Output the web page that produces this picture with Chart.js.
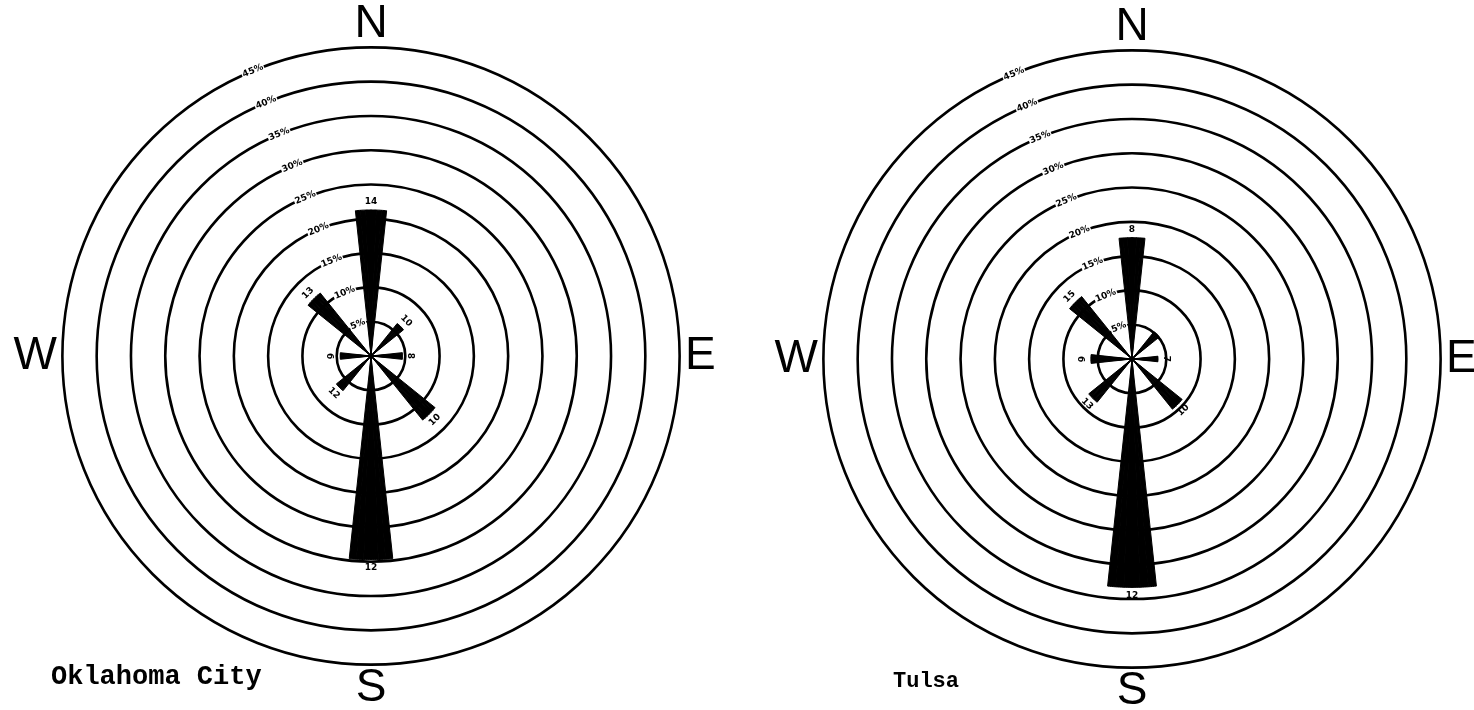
<!DOCTYPE html>
<html>
<head>
<meta charset="utf-8">
<script src="https://cdn.jsdelivr.net/npm/chart.js@4.4.1/dist/chart.umd.min.js"></script>
<style>
  html, body { margin:0; padding:0; background:#fff; width:1474px; height:710px; overflow:hidden; position:relative; }
  .box { position:absolute; }
  .city { position:absolute; font-family:"Liberation Mono","Courier New",monospace; font-weight:bold; color:#000; white-space:nowrap; line-height:1; }
</style>
</head>
<body>
<div class="box" style="left:0px;top:0px;width:737px;height:710px"><canvas id="okc"></canvas></div>
<div class="box" style="left:761px;top:3px;width:737px;height:710px"><canvas id="tulsa"></canvas></div>
<div class="city" style="left:51px;top:664px;font-size:27px">Oklahoma City</div>
<div class="city" style="left:893px;top:671px;font-size:22px">Tulsa</div>
<script>
// ---- data ----
const directions = ['N','NE','E','SE','S','SW','W','NW'];
const compassLabels = ['N','E','S','W'];
const ringTicks = [5,10,15,20,25,30,35,40,45];           // percent rings
const okcFrequency   = [21.3, 6.1, 4.6, 12.0, 29.7, 6.5, 4.5, 11.8]; // % of time
const okcSpeed       = ['14','10','8','10','12','12','9','13'];       // mean speed labels
const tulsaFrequency = [17.7, 5.1, 3.8, 9.4, 33.3, 8.1, 6.0, 11.7];
const tulsaSpeed     = ['8','','7','10','12','13','9','15'];

// ---- build the library's sector table (narrow wedges separated by empty sectors) ----
const SLOTS_PER_DIR = 22;   // 45 deg / 22 slots
const WEDGE_FIRST = 8, WEDGE_LAST = 13; // 6 slots -> ~12.3 deg wide wedge centred on direction
const LABEL_SLOT = 11;      // slot whose start angle is exactly the direction

function buildTable(freq) {
  const labels = [], values = [];
  directions.forEach((dir, d) => {
    for (let k = 0; k < SLOTS_PER_DIR; k++) {
      values.push(k >= WEDGE_FIRST && k <= WEDGE_LAST ? freq[d] : 0);
      labels.push(k === LABEL_SLOT && d % 2 === 0 ? compassLabels[d / 2] : '');
    }
  });
  return { labels, values };
}

const speedLabelPlugin = {
  id: 'speedLabels',
  afterDatasetsDraw(chart, args, opts) {
    const meta = chart.getDatasetMeta(0);
    const ctx = chart.ctx;
    ctx.save();
    ctx.font = 'bold 9px "DejaVu Sans", sans-serif';
    ctx.fillStyle = '#000';
    ctx.textAlign = 'center';
    ctx.textBaseline = 'middle';
    (opts.labels || []).forEach((txt, d) => {
      if (!txt) return;
      const arc = meta.data[d * SLOTS_PER_DIR + LABEL_SLOT];
      const a = arc.startAngle;
      const r = arc.outerRadius + 8;
      const x = arc.x + Math.cos(a) * r;
      const y = arc.y + Math.sin(a) * r;
      let rot = a + Math.PI / 2;
      while (rot > Math.PI) rot -= 2 * Math.PI;
      while (rot <= -Math.PI) rot += 2 * Math.PI;
      if (rot > Math.PI / 2 + 0.01) rot -= Math.PI;
      if (rot < -Math.PI / 2 - 0.01) rot += Math.PI;
      ctx.save();
      ctx.translate(x, y);
      ctx.rotate(rot);
      ctx.fillText(txt, 0, 0);
      ctx.restore();
    });
    ctx.restore();
  }
};

function makeRose(id, freq, speeds) {
  const t = buildTable(freq);
  return new Chart(document.getElementById(id), {
    type: 'polarArea',
    data: {
      labels: t.labels,
      datasets: [{
        data: t.values,
        backgroundColor: '#000',
        borderColor: '#000',
        borderWidth: 1
      }]
    },
    plugins: [speedLabelPlugin],
    options: {
      responsive: true,
      maintainAspectRatio: false,
      animation: false,
      layout: { padding: { left: 5, right: 12, top: 6, bottom: 3 } },
      plugins: {
        legend: { display: false },
        tooltip: { enabled: false },
        speedLabels: { labels: speeds }
      },
      scales: {
        r: {
          min: 0,
          max: 45,
          startAngle: -22.5,
          afterBuildTicks: (scale) => { scale.ticks = [0, ...ringTicks].map(v => ({ value: v })); },
          ticks: {
            callback: (v) => v + '%',
            color: '#000',
            font: { size: 9, family: '"DejaVu Sans", sans-serif', weight: 'bold' },
            showLabelBackdrop: true,
            backdropColor: '#fff',
            backdropPadding: { x: 1, y: 1 }
          },
          grid: { circular: true, color: '#000', lineWidth: 2.6 },
          angleLines: { display: false },
          pointLabels: {
            display: true,
            centerPointLabels: false,
            padding: 0,
            color: '#000',
            font: { size: 46, family: '"Liberation Sans", Arial, sans-serif', lineHeight: 0.78 }
          }
        }
      }
    }
  });
}

makeRose('okc', okcFrequency, okcSpeed);
makeRose('tulsa', tulsaFrequency, tulsaSpeed);
</script>
</body>
</html>
